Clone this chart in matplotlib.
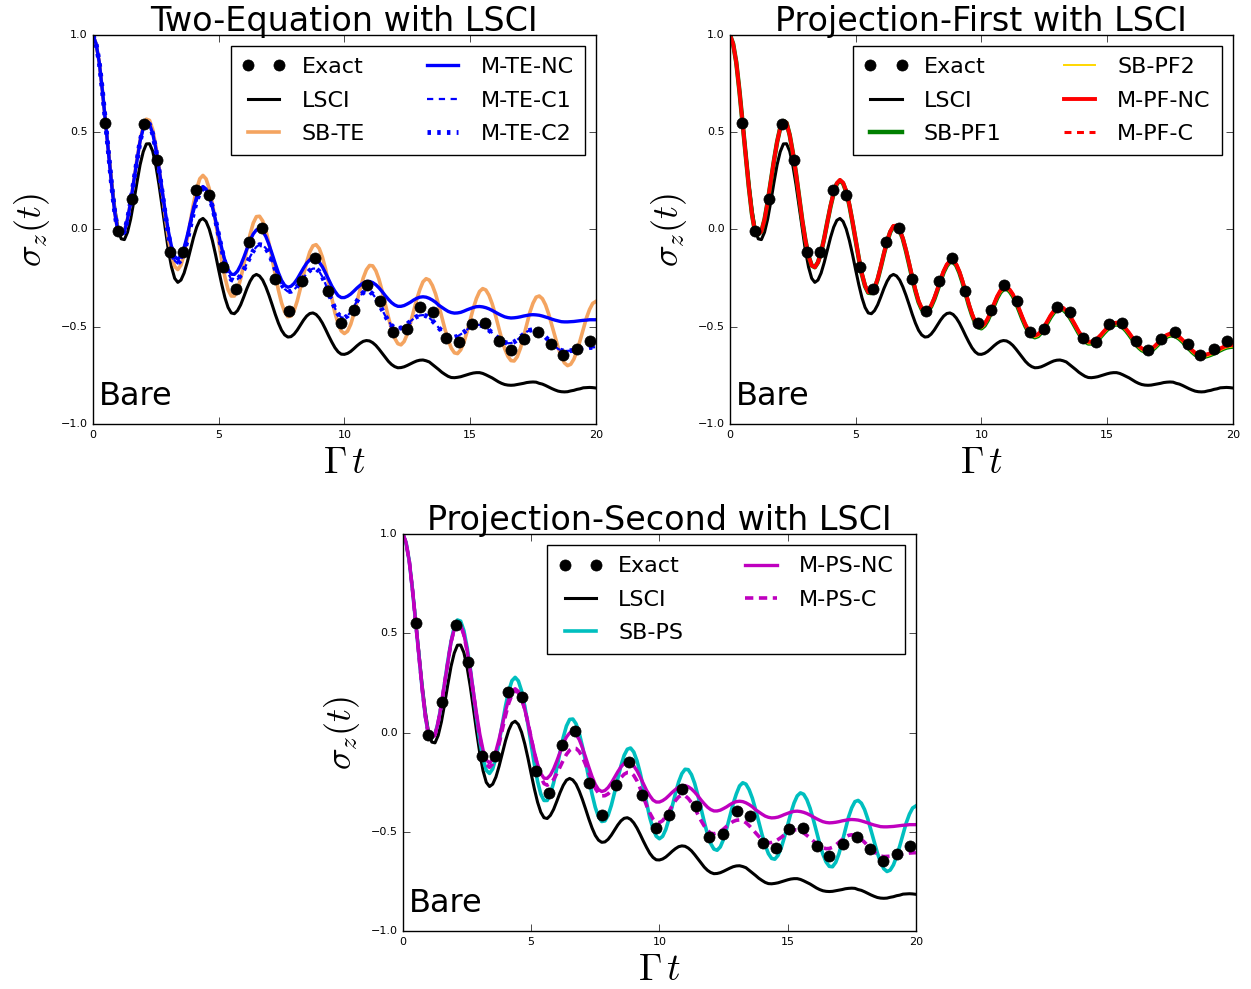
import matplotlib
matplotlib.use("Agg")
import matplotlib.pyplot as plt

plt.style.use("classic")
plt.rcParams["figure.facecolor"] = "white"
plt.rcParams["savefig.facecolor"] = "white"
plt.rcParams["mathtext.fontset"] = "cm"
plt.rcParams["lines.scale_dashes"] = False

# exact reference points
t_exact = [0.49, 0.99, 1.54, 2.05, 2.54, 3.07, 3.59, 4.11, 4.63, 5.17,
           5.69, 6.22, 6.71, 7.24, 7.78, 8.30, 8.82, 9.34, 9.87, 10.39,
           10.90, 11.43, 11.94, 12.47, 13.01, 13.53, 14.05, 14.55, 15.07, 15.61,
           16.13, 16.63, 17.15, 17.69, 18.20, 18.71, 19.26, 19.78]
sz_exact = [0.550, -0.010, 0.156, 0.542, 0.355, -0.118, -0.118, 0.204, 0.177, -0.192,
            -0.304, -0.063, 0.009, -0.252, -0.417, -0.264, -0.146, -0.316, -0.482, -0.413,
            -0.283, -0.369, -0.527, -0.511, -0.396, -0.422, -0.557, -0.580, -0.487, -0.479,
            -0.571, -0.621, -0.563, -0.527, -0.587, -0.647, -0.612, -0.571]

# time grid of the propagated curves (Gamma t), one row per unit
t_grid = [0.0, 0.125, 0.25, 0.375, 0.5, 0.625, 0.75, 0.875,
          1.0, 1.125, 1.25, 1.375, 1.5, 1.625, 1.75, 1.875,
          2.0, 2.125, 2.25, 2.375, 2.5, 2.625, 2.75, 2.875,
          3.0, 3.125, 3.25, 3.375, 3.5, 3.625, 3.75, 3.875,
          4.0, 4.125, 4.25, 4.375, 4.5, 4.625, 4.75, 4.875,
          5.0, 5.125, 5.25, 5.375, 5.5, 5.625, 5.75, 5.875,
          6.0, 6.125, 6.25, 6.375, 6.5, 6.625, 6.75, 6.875,
          7.0, 7.125, 7.25, 7.375, 7.5, 7.625, 7.75, 7.875,
          8.0, 8.125, 8.25, 8.375, 8.5, 8.625, 8.75, 8.875,
          9.0, 9.125, 9.25, 9.375, 9.5, 9.625, 9.75, 9.875,
          10.0, 10.125, 10.25, 10.375, 10.5, 10.625, 10.75, 10.875,
          11.0, 11.125, 11.25, 11.375, 11.5, 11.625, 11.75, 11.875,
          12.0, 12.125, 12.25, 12.375, 12.5, 12.625, 12.75, 12.875,
          13.0, 13.125, 13.25, 13.375, 13.5, 13.625, 13.75, 13.875,
          14.0, 14.125, 14.25, 14.375, 14.5, 14.625, 14.75, 14.875,
          15.0, 15.125, 15.25, 15.375, 15.5, 15.625, 15.75, 15.875,
          16.0, 16.125, 16.25, 16.375, 16.5, 16.625, 16.75, 16.875,
          17.0, 17.125, 17.25, 17.375, 17.5, 17.625, 17.75, 17.875,
          18.0, 18.125, 18.25, 18.375, 18.5, 18.625, 18.75, 18.875,
          19.0, 19.125, 19.25, 19.375, 19.5, 19.625, 19.75, 19.875,
          20.0]

sz_lsci = [1.000, 0.955, 0.860, 0.720, 0.560, 0.395, 0.240, 0.105,
           0.000, -0.048, -0.052, -0.014, 0.054, 0.144, 0.242, 0.333,
           0.400, 0.440, 0.441, 0.403, 0.330, 0.232, 0.119, 0.002,
           -0.107, -0.193, -0.251, -0.272, -0.260, -0.224, -0.169, -0.105,
           -0.041, 0.012, 0.047, 0.057, 0.041, 0.002, -0.057, -0.129,
           -0.208, -0.284, -0.351, -0.401, -0.429, -0.433, -0.417, -0.387,
           -0.346, -0.303, -0.266, -0.240, -0.231, -0.239, -0.260, -0.295,
           -0.338, -0.386, -0.436, -0.481, -0.518, -0.542, -0.553, -0.551,
           -0.538, -0.517, -0.492, -0.466, -0.445, -0.432, -0.429, -0.437,
           -0.455, -0.481, -0.513, -0.547, -0.579, -0.608, -0.629, -0.641,
           -0.642, -0.637, -0.627, -0.613, -0.598, -0.585, -0.575, -0.571,
           -0.573, -0.582, -0.596, -0.615, -0.636, -0.657, -0.678, -0.694,
           -0.705, -0.711, -0.710, -0.706, -0.699, -0.691, -0.683, -0.676,
           -0.672, -0.671, -0.675, -0.681, -0.694, -0.707, -0.720, -0.734,
           -0.745, -0.755, -0.761, -0.762, -0.760, -0.757, -0.752, -0.747,
           -0.742, -0.738, -0.736, -0.736, -0.740, -0.747, -0.755, -0.763,
           -0.773, -0.783, -0.791, -0.797, -0.800, -0.801, -0.800, -0.797,
           -0.794, -0.791, -0.787, -0.785, -0.784, -0.785, -0.791, -0.795,
           -0.802, -0.810, -0.818, -0.825, -0.831, -0.834, -0.835, -0.834,
           -0.830, -0.827, -0.822, -0.819, -0.814, -0.813, -0.812, -0.813,
           -0.815]

# spin-boson (SB) result, shared by the two-equation and projection-second panels
sz_sb = [1.000, 0.955, 0.860, 0.715, 0.550, 0.380, 0.220, 0.080,
         -0.015, -0.025, -0.008, 0.053, 0.143, 0.250, 0.361, 0.458,
         0.532, 0.567, 0.561, 0.514, 0.430, 0.324, 0.198, 0.071,
         -0.045, -0.133, -0.190, -0.206, -0.183, -0.128, -0.049, 0.043,
         0.134, 0.210, 0.261, 0.278, 0.260, 0.210, 0.133, 0.040,
         -0.062, -0.161, -0.246, -0.310, -0.342, -0.342, -0.310, -0.253,
         -0.179, -0.099, -0.025, 0.033, 0.066, 0.068, 0.044, -0.004,
         -0.071, -0.150, -0.233, -0.311, -0.377, -0.424, -0.448, -0.445,
         -0.417, -0.367, -0.303, -0.233, -0.168, -0.115, -0.084, -0.078,
         -0.098, -0.142, -0.203, -0.278, -0.355, -0.429, -0.484, -0.522,
         -0.535, -0.523, -0.488, -0.435, -0.372, -0.307, -0.249, -0.207,
         -0.185, -0.187, -0.212, -0.256, -0.316, -0.383, -0.451, -0.512,
         -0.559, -0.587, -0.593, -0.576, -0.538, -0.483, -0.421, -0.359,
         -0.309, -0.269, -0.253, -0.260, -0.288, -0.331, -0.388, -0.451,
         -0.513, -0.567, -0.610, -0.634, -0.638, -0.619, -0.581, -0.527,
         -0.467, -0.406, -0.355, -0.319, -0.304, -0.311, -0.338, -0.381,
         -0.437, -0.499, -0.560, -0.613, -0.652, -0.674, -0.676, -0.654,
         -0.611, -0.553, -0.489, -0.426, -0.379, -0.348, -0.342, -0.356,
         -0.388, -0.435, -0.492, -0.551, -0.607, -0.654, -0.686, -0.700,
         -0.693, -0.667, -0.624, -0.570, -0.512, -0.455, -0.411, -0.380,
         -0.370]

# mapping result without correction
sz_m_nc = [1.000, 0.955, 0.860, 0.715, 0.550, 0.380, 0.220, 0.080,
           -0.015, -0.025, -0.012, 0.053, 0.141, 0.250, 0.354, 0.455,
           0.520, 0.552, 0.541, 0.494, 0.417, 0.316, 0.205, 0.092,
           -0.009, -0.088, -0.139, -0.153, -0.135, -0.093, -0.032, 0.040,
           0.110, 0.168, 0.208, 0.221, 0.208, 0.172, 0.116, 0.048,
           -0.027, -0.098, -0.160, -0.206, -0.230, -0.231, -0.214, -0.183,
           -0.143, -0.099, -0.056, -0.023, -0.002, 0.002, -0.009, -0.036,
           -0.077, -0.125, -0.175, -0.222, -0.261, -0.287, -0.297, -0.292,
           -0.277, -0.254, -0.226, -0.198, -0.173, -0.156, -0.149, -0.153,
           -0.168, -0.192, -0.224, -0.258, -0.291, -0.318, -0.340, -0.350,
           -0.350, -0.343, -0.332, -0.317, -0.301, -0.287, -0.275, -0.268,
           -0.267, -0.273, -0.284, -0.300, -0.319, -0.340, -0.359, -0.376,
           -0.388, -0.395, -0.395, -0.391, -0.383, -0.374, -0.363, -0.354,
           -0.348, -0.346, -0.348, -0.354, -0.363, -0.374, -0.389, -0.400,
           -0.411, -0.421, -0.427, -0.430, -0.429, -0.426, -0.420, -0.413,
           -0.407, -0.401, -0.397, -0.396, -0.398, -0.402, -0.408, -0.416,
           -0.425, -0.434, -0.442, -0.449, -0.453, -0.455, -0.454, -0.452,
           -0.449, -0.445, -0.442, -0.439, -0.438, -0.439, -0.441, -0.445,
           -0.450, -0.455, -0.461, -0.466, -0.470, -0.474, -0.475, -0.475,
           -0.474, -0.473, -0.471, -0.469, -0.467, -0.466, -0.464, -0.464,
           -0.464]

# mapping result with correction
sz_m_c = [1.000, 0.955, 0.860, 0.715, 0.550, 0.380, 0.220, 0.080,
          -0.015, -0.025, -0.012, 0.053, 0.141, 0.250, 0.354, 0.455,
          0.520, 0.552, 0.541, 0.492, 0.412, 0.309, 0.194, 0.078,
          -0.026, -0.108, -0.160, -0.175, -0.158, -0.117, -0.056, 0.014,
          0.086, 0.148, 0.190, 0.210, 0.202, 0.169, 0.118, 0.049,
          -0.028, -0.104, -0.170, -0.224, -0.257, -0.265, -0.256, -0.236,
          -0.207, -0.174, -0.140, -0.110, -0.089, -0.078, -0.080, -0.096,
          -0.124, -0.162, -0.203, -0.245, -0.281, -0.306, -0.319, -0.318,
          -0.309, -0.292, -0.271, -0.248, -0.227, -0.210, -0.201, -0.201,
          -0.216, -0.243, -0.281, -0.324, -0.368, -0.405, -0.435, -0.452,
          -0.454, -0.444, -0.423, -0.397, -0.368, -0.343, -0.324, -0.315,
          -0.318, -0.332, -0.353, -0.381, -0.413, -0.444, -0.471, -0.493,
          -0.507, -0.510, -0.506, -0.498, -0.486, -0.472, -0.459, -0.448,
          -0.442, -0.440, -0.444, -0.454, -0.469, -0.486, -0.505, -0.523,
          -0.538, -0.549, -0.555, -0.554, -0.549, -0.539, -0.528, -0.515,
          -0.503, -0.495, -0.490, -0.491, -0.496, -0.505, -0.518, -0.531,
          -0.546, -0.560, -0.572, -0.580, -0.585, -0.584, -0.578, -0.567,
          -0.553, -0.539, -0.526, -0.518, -0.515, -0.518, -0.525, -0.538,
          -0.553, -0.570, -0.587, -0.602, -0.614, -0.622, -0.625, -0.624,
          -0.623, -0.621, -0.618, -0.615, -0.612, -0.610, -0.607, -0.606,
          -0.605]

# projection-first mapping curves
sz_pf = [1.000, 0.955, 0.860, 0.715, 0.550, 0.380, 0.220, 0.080,
         -0.015, -0.025, -0.010, 0.051, 0.141, 0.246, 0.354, 0.450,
         0.523, 0.558, 0.548, 0.486, 0.395, 0.289, 0.168, 0.047,
         -0.055, -0.136, -0.185, -0.194, -0.169, -0.117, -0.044, 0.040,
         0.122, 0.190, 0.238, 0.255, 0.240, 0.197, 0.127, 0.040,
         -0.055, -0.147, -0.229, -0.289, -0.322, -0.324, -0.300, -0.253,
         -0.190, -0.122, -0.059, -0.010, 0.018, 0.020, -0.002, -0.045,
         -0.104, -0.173, -0.245, -0.310, -0.367, -0.404, -0.420, -0.414,
         -0.390, -0.353, -0.307, -0.258, -0.213, -0.180, -0.161, -0.160,
         -0.179, -0.216, -0.266, -0.324, -0.383, -0.433, -0.474, -0.496,
         -0.499, -0.485, -0.458, -0.421, -0.382, -0.344, -0.315, -0.298,
         -0.296, -0.309, -0.333, -0.368, -0.408, -0.450, -0.488, -0.519,
         -0.538, -0.545, -0.539, -0.522, -0.499, -0.470, -0.442, -0.419,
         -0.403, -0.398, -0.403, -0.418, -0.440, -0.467, -0.496, -0.525,
         -0.549, -0.567, -0.577, -0.577, -0.570, -0.558, -0.542, -0.523,
         -0.506, -0.491, -0.482, -0.479, -0.483, -0.494, -0.511, -0.532,
         -0.555, -0.577, -0.597, -0.611, -0.619, -0.619, -0.613, -0.602,
         -0.586, -0.569, -0.554, -0.542, -0.536, -0.536, -0.542, -0.553,
         -0.568, -0.585, -0.603, -0.620, -0.634, -0.643, -0.646, -0.645,
         -0.641, -0.635, -0.628, -0.620, -0.612, -0.604, -0.598, -0.595,
         -0.593]

# projection-first spin-boson curves (sit a little below the mapping ones)
sz_sb_pf = [1.000, 0.955, 0.860, 0.715, 0.550, 0.380, 0.220, 0.080,
            -0.015, -0.025, -0.010, 0.051, 0.141, 0.246, 0.354, 0.450,
            0.523, 0.558, 0.548, 0.486, 0.395, 0.289, 0.168, 0.047,
            -0.055, -0.136, -0.185, -0.194, -0.169, -0.117, -0.044, 0.040,
            0.119, 0.187, 0.235, 0.252, 0.237, 0.194, 0.124, 0.037,
            -0.058, -0.150, -0.232, -0.292, -0.325, -0.327, -0.303, -0.256,
            -0.193, -0.125, -0.062, -0.013, 0.015, 0.017, -0.005, -0.048,
            -0.110, -0.179, -0.251, -0.316, -0.373, -0.410, -0.426, -0.420,
            -0.396, -0.359, -0.313, -0.264, -0.219, -0.186, -0.167, -0.166,
            -0.185, -0.222, -0.272, -0.330, -0.389, -0.439, -0.480, -0.502,
            -0.508, -0.494, -0.467, -0.430, -0.391, -0.353, -0.324, -0.307,
            -0.305, -0.318, -0.342, -0.377, -0.417, -0.459, -0.497, -0.528,
            -0.547, -0.554, -0.548, -0.531, -0.508, -0.479, -0.451, -0.428,
            -0.412, -0.407, -0.412, -0.427, -0.449, -0.476, -0.505, -0.534,
            -0.558, -0.576, -0.586, -0.586, -0.579, -0.567, -0.551, -0.532,
            -0.515, -0.500, -0.491, -0.488, -0.492, -0.503, -0.520, -0.541,
            -0.564, -0.586, -0.606, -0.620, -0.628, -0.628, -0.622, -0.611,
            -0.595, -0.578, -0.563, -0.551, -0.545, -0.545, -0.551, -0.562,
            -0.577, -0.594, -0.612, -0.629, -0.643, -0.652, -0.655, -0.654,
            -0.650, -0.644, -0.637, -0.629, -0.621, -0.613, -0.607, -0.604,
            -0.602]

lsci_style = dict(color="k", lw=2.2)


def draw_panel(ax, title, curves):
    handles = []
    for values, label, style in curves:
        line, = ax.plot(t_grid, values, label=label, **style)
        handles.append(line)
    exact, = ax.plot(t_exact, sz_exact, "o", color="k", markeredgecolor="k",
                     markersize=8, zorder=5, label="Exact")
    handles.insert(0, exact)

    ax.set_xlim(0, 20)
    ax.set_ylim(-1.0, 1.0)
    ax.set_xticks([0, 5, 10, 15, 20])
    ax.set_yticks([-1.0, -0.5, 0.0, 0.5, 1.0])
    ax.tick_params(direction="in", top=True, right=True, labelsize=8, length=5)
    ax.set_xlabel(r"$\Gamma\, t$", fontsize=27, labelpad=4)
    ax.set_ylabel(r"$\sigma_z(t)$", fontsize=26, labelpad=6)
    ax.set_title(title, fontsize=24, pad=3)
    ax.text(0.25, -0.86, "Bare", fontsize=23, ha="left", va="center")
    ax.legend(handles=handles, loc="upper right", ncol=2, fontsize=16,
              numpoints=2, handlelength=2.0, handletextpad=0.7,
              labelspacing=0.6, columnspacing=2.5, borderpad=0.5,
              fancybox=False, framealpha=1.0, edgecolor="k")


fig = plt.figure(figsize=(12.51, 9.89), dpi=100)
ax1 = fig.add_axes([0.0743, 0.5713, 0.402, 0.3933])
ax2 = fig.add_axes([0.5835, 0.5713, 0.402, 0.3933])
ax3 = fig.add_axes([0.3221, 0.0586, 0.410, 0.4014])

draw_panel(ax1, "Two-Equation with LSCI", [
    (sz_lsci, "LSCI", lsci_style),
    (sz_sb, "SB-TE", dict(color="#f4a460", lw=2.6)),
    (sz_m_nc, "M-TE-NC", dict(color="b", lw=2.4)),
    (sz_m_c, "M-TE-C1", dict(color="b", lw=1.6, linestyle=(0, (4.5, 4)))),
    (sz_m_c, "M-TE-C2", dict(color="b", lw=3.5, linestyle=(0, (2.5, 4.5)))),
])

draw_panel(ax2, "Projection-First with LSCI", [
    (sz_lsci, "LSCI", lsci_style),
    (sz_sb_pf, "SB-PF1", dict(color="green", lw=3.2)),
    (sz_sb_pf, "SB-PF2", dict(color="gold", lw=1.4)),
    (sz_pf, "M-PF-NC", dict(color="r", lw=2.8)),
    (sz_pf, "M-PF-C", dict(color="r", lw=2.2, linestyle=(0, (5, 4)))),
])

draw_panel(ax3, "Projection-Second with LSCI", [
    (sz_lsci, "LSCI", lsci_style),
    (sz_sb, "SB-PS", dict(color="c", lw=2.6)),
    (sz_m_nc, "M-PS-NC", dict(color="m", lw=2.4)),
    (sz_m_c, "M-PS-C", dict(color="m", lw=2.6, linestyle=(0, (6, 4)))),
])

fig.savefig("out.png", dpi=100)
